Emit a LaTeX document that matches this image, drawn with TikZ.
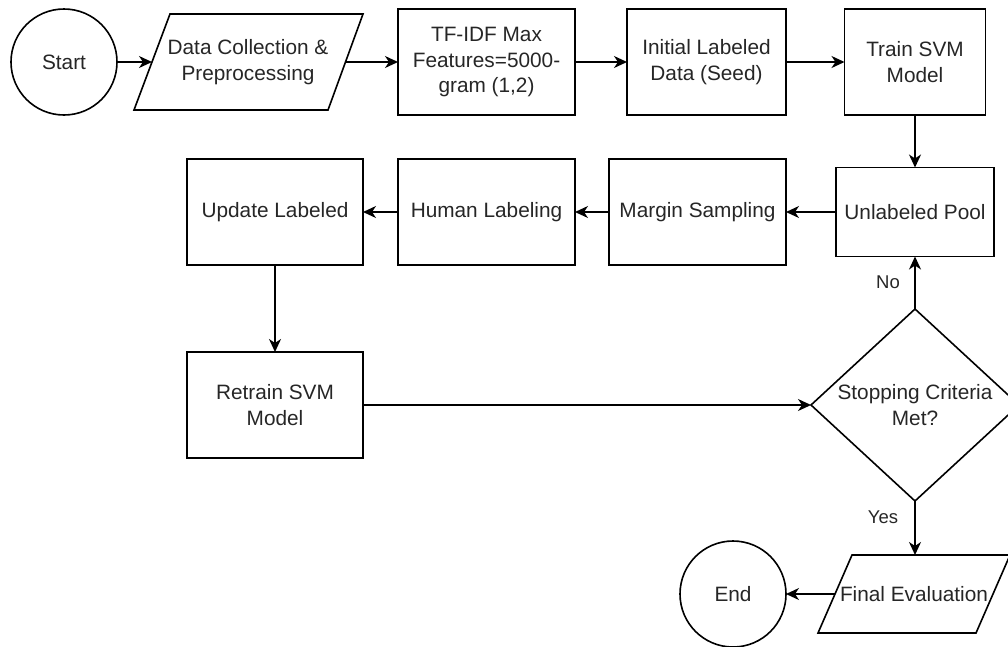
\documentclass[tikz,border=0pt]{standalone}
\usepackage{fontspec}
\setmainfont{Liberation Sans}
\usetikzlibrary{shapes.geometric,arrows.meta}
\begin{document}
\begin{tikzpicture}[x=1pt,y=-1pt,
  every node/.style={inner sep=0pt, outer sep=0pt},
  shp/.style={draw=black, line width=1.6pt, line join=miter},
  box/.style={shp, rectangle, font=\fontsize{20.8}{25.5}\selectfont, align=center, text=black!85},
  txt/.style={font=\fontsize{20.8}{25.5}\selectfont, align=center, text=black!85},
  lbl/.style={font=\fontsize{18.5}{22}\selectfont, text=black!85},
  flow/.style={line width=1.6pt, draw=black, -{Stealth[length=13pt,width=12pt,inset=4pt]}}
]
\useasboundingbox (0,0) rectangle (1008,646);

% row 1
\node[shp, circle, minimum size=106pt, txt] (start) at (64,62) {Start};
\draw[shp] (134,110) -- (170,14) -- (363,14) -- (328,110) -- cycle;
\node[txt] (dc) at (248,62) {Data Collection \&\\Preprocessing};
\coordinate (dcW) at (152,62);
\coordinate (dcE) at (345.5,62);
\node[box, minimum width=177pt, minimum height=106pt] (tfidf) at (486.5,62) {TF-IDF Max\\Features=5000-\\gram (1,2)};
\node[box, minimum width=159pt, minimum height=106pt] (init) at (706.5,62) {Initial Labeled\\Data (Seed)};
\node[box, minimum width=141pt, minimum height=106pt] (train) at (915,62) {Train SVM\\Model};

% row 2
\node[box, minimum width=158pt, minimum height=89pt] (pool) at (915,212) {Unlabeled Pool};
\node[box, minimum width=177pt, minimum height=106pt] (margin) at (697.5,212) {Margin Sampling};
\node[box, minimum width=177pt, minimum height=106pt] (human) at (486.5,212) {Human Labeling};
\node[box, minimum width=176pt, minimum height=106pt] (update) at (275,212) {Update Labeled};

% row 3
\node[box, minimum width=176pt, minimum height=106pt] (retrain) at (275,405) {Retrain SVM\\Model};
\node[shp, diamond, inner sep=2pt, minimum width=208pt, minimum height=192pt] (dec) at (915,405) {\phantom{X}};
\node[txt] (dectxt) at (915,405) {Stopping Criteria\\Met?};

% row 4
\draw[shp] (818,633) -- (852,555) -- (1010,555) -- (976,633) -- cycle;
\node[txt] (fe) at (914,594) {Final Evaluation};
\coordinate (feN) at (915,555);
\coordinate (feW) at (835,594);
\node[shp, circle, minimum size=106pt, txt] (endc) at (733,594) {End};

% labels
\node[lbl] (nolbl) at (888,282) {No};
\node[lbl] (yeslbl) at (883,517) {Yes};

% connectors
\draw[flow] (start) -- (dcW);
\draw[flow] (dcE) -- (tfidf);
\draw[flow] (tfidf) -- (init);
\draw[flow] (init) -- (train);
\draw[flow] (train) -- (pool);
\draw[flow] (pool) -- (margin);
\draw[flow] (margin) -- (human);
\draw[flow] (human) -- (update);
\draw[flow] (update) -- (retrain);
\draw[flow] (retrain) -- (dec);
\draw[flow] (dec.north) -- (pool.south);
\draw[flow] (dec.south) -- (feN);
\draw[flow] (feW) -- (endc);
\end{tikzpicture}
\end{document}
